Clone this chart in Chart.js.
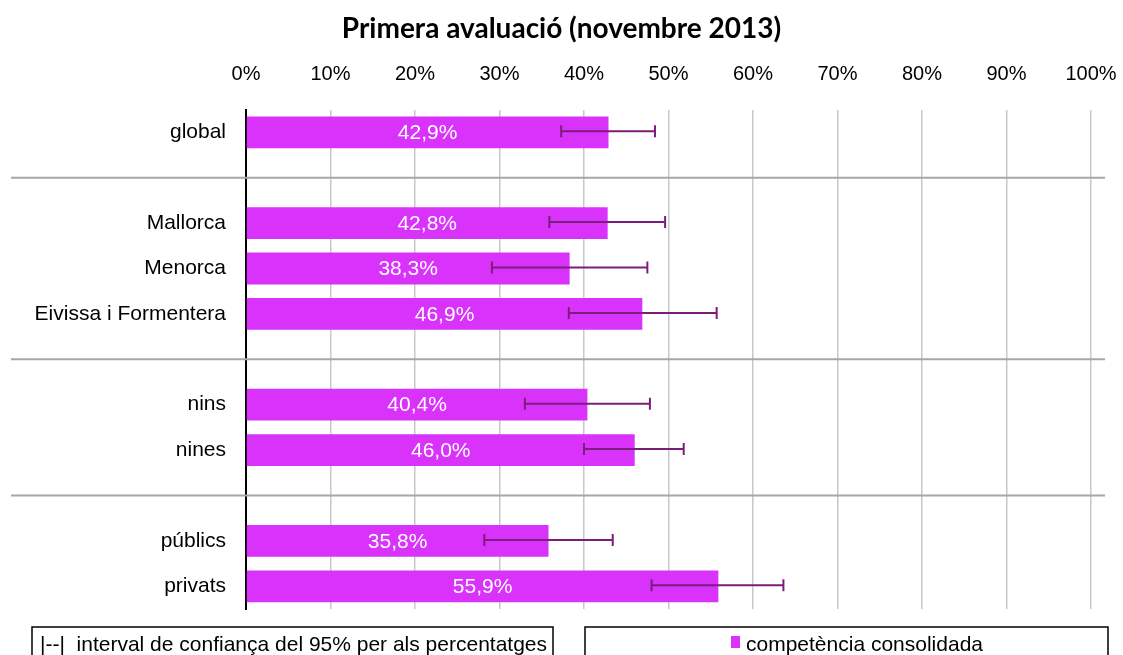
<!DOCTYPE html>
<html>
<head>
<meta charset="utf-8">
<script src="https://cdn.jsdelivr.net/npm/chart.js@4"></script>
<style>
  html, body { margin: 0; padding: 0; background: #fff; }
  #wrap { width: 1123px; height: 655px; }
</style>
</head>
<body>
<div id="wrap"><canvas id="grafic" width="1123" height="655"></canvas></div>
<script>
// categories (blank entries are the spaces between groups)
const categories = ['global', '', 'Mallorca', 'Menorca', 'Eivissa i Formentera', ' ', 'nins', 'nines', '  ', 'públics', 'privats'];
// % of pupils with consolidated competence
const percentatges = [42.9, null, 42.8, 38.3, 46.9, null, 40.4, 46.0, null, 35.8, 55.9];
// 95% confidence interval
const intervalMin = [37.3, null, 35.9, 29.1, 38.2, null, 33.0, 40.0, null, 28.2, 48.0];
const intervalMax = [48.4, null, 49.6, 47.5, 55.7, null, 47.8, 51.8, null, 43.4, 63.6];
const ticksX = [0, 10, 20, 30, 40, 50, 60, 70, 80, 90, 100];

const serieNom = 'competència consolidada';
const notaInterval = '|--|  interval de confiança del 95% per als percentatges';

const colorBarra = '#d932fb';
const colorError = '#7c1c7c';
const lletra = '"Liberation Sans", Arial, sans-serif';

const fmt = v => v.toFixed(1).replace('.', ',') + '%';

// grey lines between groups, across the whole width
const separadors = {
    id: 'separadors',
    afterDatasetsDraw(chart) {
        const ctx = chart.ctx;
        const y = chart.scales.y;
        ctx.save();
        ctx.strokeStyle = '#a6a6a6';
        ctx.lineWidth = 2;
        categories.forEach((c, i) => {
            if (c.trim() !== '') return;
            const py = y.getPixelForValue(i);
            ctx.beginPath();
            ctx.moveTo(11, py);
            ctx.lineTo(1105, py);
            ctx.stroke();
        });
        ctx.restore();
    }
};

// value labels inside the bars + error bars
const etiquetes = {
    id: 'etiquetes',
    afterDatasetsDraw(chart) {
        const ctx = chart.ctx;
        const x = chart.scales.x;
        const meta = chart.getDatasetMeta(0);
        ctx.save();
        meta.data.forEach((bar, i) => {
            const v = percentatges[i];
            if (v === null) return;
            const p = bar.getProps(['x', 'y', 'base'], true);
            ctx.fillStyle = '#fff';
            ctx.font = '21px ' + lletra;
            ctx.textAlign = 'center';
            ctx.textBaseline = 'middle';
            ctx.fillText(fmt(v), (p.x + p.base) / 2, p.y + 1);

            const x0 = x.getPixelForValue(intervalMin[i]);
            const x1 = x.getPixelForValue(intervalMax[i]);
            const yy = p.y - 1;
            ctx.strokeStyle = colorError;
            ctx.lineWidth = 2;
            ctx.beginPath();
            ctx.moveTo(x0, yy); ctx.lineTo(x1, yy);
            ctx.moveTo(x0, yy - 6); ctx.lineTo(x0, yy + 6);
            ctx.moveTo(x1, yy - 6); ctx.lineTo(x1, yy + 6);
            ctx.stroke();
        });
        ctx.restore();
    }
};

// the two boxes under the chart
const caixes = {
    id: 'caixes',
    afterDraw(chart) {
        const ctx = chart.ctx;
        ctx.save();
        ctx.strokeStyle = '#000';
        ctx.lineWidth = 1.5;
        ctx.strokeRect(32, 627, 521, 40);
        ctx.strokeRect(585, 627, 523, 40);
        ctx.font = '21px ' + lletra;
        ctx.fillStyle = '#000';
        ctx.textBaseline = 'middle';
        ctx.textAlign = 'left';
        ctx.fillText(notaInterval, 40, 645);
        ctx.fillStyle = colorBarra;
        ctx.fillRect(731, 636, 9, 12);
        ctx.fillStyle = '#000';
        ctx.fillText(chart.data.datasets[0].label, 746, 645);
        ctx.restore();
    }
};

new Chart(document.getElementById('grafic').getContext('2d'), {
    type: 'bar',
    data: {
        labels: categories,
        datasets: [{
            label: serieNom,
            data: percentatges,
            backgroundColor: colorBarra,
            borderWidth: 0,
            barPercentage: 0.7,
            categoryPercentage: 1.0
        }]
    },
    options: {
        indexAxis: 'y',
        responsive: false,
        animation: false,
        layout: { padding: { left: 32, right: 32, top: 0, bottom: 46 } },
        plugins: {
            legend: { display: false },
            tooltip: { enabled: false },
            title: {
                display: true,
                text: 'Primera avaluació (novembre 2013)',
                color: '#000',
                font: { family: 'Lato', weight: 'bold', size: 28 },
                padding: { top: 12, bottom: 4 }
            }
        },
        scales: {
            x: {
                position: 'top',
                min: 0,
                max: 100,
                afterBuildTicks: s => { s.ticks = ticksX.map(v => ({ value: v })); },
                afterFit: s => {
                    s.height = 60;
                    s.paddingLeft = 0;
                    s.paddingRight = 0;
                },
                ticks: {
                    callback: v => v + '%',
                    color: '#000',
                    font: { family: lletra, size: 20 },
                    padding: 23
                },
                grid: { color: '#c8c8c8', lineWidth: 1.5, drawTicks: false },
                border: { display: false }
            },
            y: {
                afterFit: s => { s.width = 214; },
                ticks: {
                    color: '#000',
                    font: { family: lletra, size: 21 },
                    padding: 12
                },
                grid: { display: false },
                border: { color: '#000', width: 2 }
            }
        }
    },
    plugins: [separadors, etiquetes, caixes]
});
</script>
</body>
</html>
